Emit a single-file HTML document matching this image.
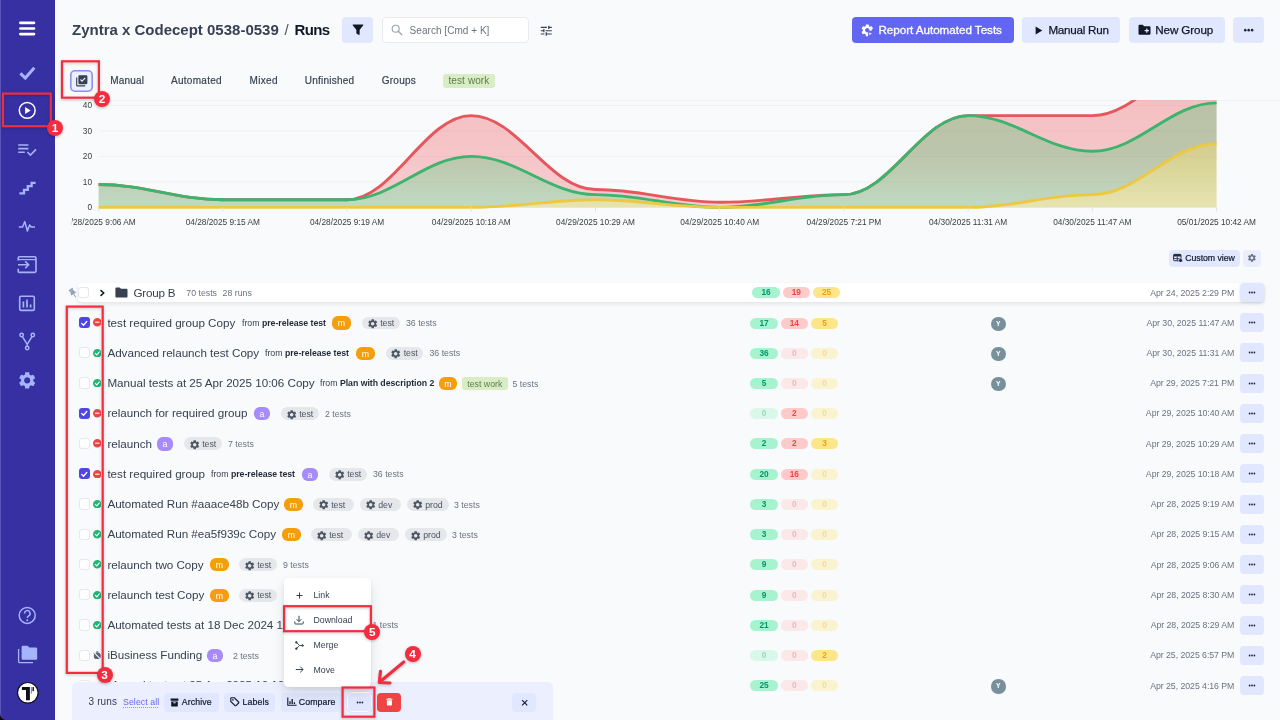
<!DOCTYPE html>
<html lang="en">
<head>
<meta charset="utf-8">
<title>Runs</title>
<style>
*{box-sizing:border-box;margin:0;padding:0}
html,body{width:1280px;height:720px;overflow:hidden;background:#f9fafb}
body{font-family:"Liberation Sans",sans-serif;color:#1f2937;position:relative}
.abs{position:absolute}
.side{position:absolute;left:0;top:0;width:55px;height:720px;background:#3730a3;border-left:1px solid #5b55b8;border-bottom-left-radius:7px}
.t{position:absolute;white-space:nowrap;height:20px;line-height:20px;font-size:11.67px;color:#1f2937}
.t.ti{color:#374151;letter-spacing:-.02px}
.t.sm{font-size:8.75px;color:#4b5563}
.t.fr{color:#374151}
.t.fr b{color:#1f2937;font-weight:700;letter-spacing:-.04px}
.t.dt{font-size:8.75px;color:#6b7280;letter-spacing:-.05px}
.pl{position:absolute;text-align:center;white-space:nowrap}
.env{position:absolute;height:12.9px;border-radius:6.5px;background:#e5e7eb}
.mb{position:absolute;width:18px;height:13.2px;border-radius:5.8px;color:#fff;font-size:8.75px;line-height:14.4px;text-align:center}
.lab{position:absolute;height:13.2px;line-height:14.2px;padding:0 5.3px;border-radius:3px;background:#d9edc4;color:#5f7a52;font-size:8.75px;white-space:nowrap}
.cb{position:absolute;width:11.2px;height:11.2px;border-radius:3px;background:#fff;box-shadow:inset 0 0 0 1px #e5e8ed}
.cb.on{background:#4f46e5;box-shadow:none}
.av{position:absolute;width:14.4px;height:14.4px;border-radius:50%;background:#78909c;color:#fff;font-size:6.8px;font-weight:700;line-height:14.6px;text-align:center}
.dots{position:absolute;width:24px;height:19px;border-radius:4px;background:#e0e7ff;display:flex;align-items:center;justify-content:center;gap:.55px}
.dots svg{display:block;fill:#1f2937}
.btn{position:absolute;border-radius:4px;background:#e0e7ff;color:#111827;white-space:nowrap}
.ax{font-family:"Liberation Sans",sans-serif;font-size:8.3px;fill:#373d3f}
.rbox{position:absolute;border:2px solid #f32d3f;filter:drop-shadow(0 1px 2px rgba(0,0,0,.25))}
.num{position:absolute;width:16.2px;height:16.2px;margin:-.4px 0 0 -.4px;border-radius:50%;background:#f32d3f;color:#fff;font-weight:700;font-size:11.8px;line-height:16.4px;text-align:center;box-shadow:0 1px 3px rgba(0,0,0,.28)}
.mi{position:absolute;left:313.5px;font-size:8.75px;color:#374151;height:20px;line-height:20px}
</style>
</head>
<body>
<div id="app" style="position:absolute;left:0;top:0;width:1280px;height:720px;overflow:hidden;will-change:transform">

<!-- ============ SIDEBAR ============ -->
<div class="abs" style="left:0;top:700px;width:12px;height:20px;background:#0b0b14"></div>
<div class="side"></div>
<svg class="abs" style="left:0;top:0" width="56" height="720" viewBox="0 0 56 720">
 <!-- hamburger -->
 <g stroke="#fff" stroke-width="2.7" stroke-linecap="round"><path d="M20.4 22.8H34M20.4 28.5H34M20.4 34.1H34"/></g>
 <!-- check -->
 <path d="M20.4 73.4 L25.3 78.1 L34.3 67.8" fill="none" stroke="#a5b4fc" stroke-width="3"/>
 <!-- play circle -->
 <circle cx="27.2" cy="110.4" r="7.9" fill="none" stroke="#fff" stroke-width="1.5"/>
 <path d="M25.1 106.9 L30.7 110.4 L25.1 113.9 Z" fill="#fff"/>
 <!-- playlist check -->
 <g stroke="#a5b4fc" stroke-width="1.6" fill="none"><path d="M18.2 145H28.4M18.2 148.6H28.4M18.2 152.2H24.8"/><path d="M27.4 152 L30.4 155 L36 149.4"/></g>
 <!-- stairs -->
 <path d="M19.4 193.4 H24 V189.8 H27.8 V186.2 H31.6 V182.9 H35.6" fill="none" stroke="#a5b4fc" stroke-width="2.3"/>
 <!-- pulse -->
 <path d="M18.8 227 H22.6 L24.8 221.6 L27.4 231 L29.6 225 L31.2 227 H35" fill="none" stroke="#a5b4fc" stroke-width="1.5" stroke-linejoin="round"/>
 <!-- import -->
 <g fill="none" stroke="#a5b4fc" stroke-width="1.6"><path d="M18.2 260.5 V258.2 a1.4 1.4 0 0 1 1.4-1.4 H34.6 a1.4 1.4 0 0 1 1.4 1.4 V271 a1.4 1.4 0 0 1-1.4 1.4 H19.6 a1.4 1.4 0 0 1-1.4-1.4 V268.8"/><path d="M18.2 259.6H36" stroke-width="1.2"/><path d="M18 264.8 H28.4 M25.2 261.4 L28.6 264.8 L25.2 268.2"/></g>
 <!-- chart box -->
 <g fill="none" stroke="#a5b4fc" stroke-width="1.6"><rect x="19.7" y="296.2" width="14.6" height="14.2" rx="1.4"/><path d="M23.4 307.4 V301.6 M27 307.4 V299.6 M30.6 307.4 V304.4" stroke-width="1.7"/></g>
 <!-- fork -->
 <g fill="none" stroke="#a5b4fc" stroke-width="1.5"><circle cx="21.6" cy="335" r="1.7"/><circle cx="32.8" cy="335" r="1.7"/><circle cx="27.2" cy="348" r="1.7"/><path d="M22.4 336.6 L27.2 344.4 L32 336.6 M27.2 344.4 V346.2"/></g>
 <!-- gear -->
 <g transform="translate(17,370.2) scale(.85)" fill="#a5b4fc"><path d="M19.14 12.94c.04-.3.06-.61.06-.94 0-.32-.02-.64-.07-.94l2.03-1.58a.49.49 0 0 0 .12-.61l-1.92-3.32a.488.488 0 0 0-.59-.22l-2.39.96c-.5-.38-1.03-.7-1.62-.94l-.36-2.54a.484.484 0 0 0-.48-.41h-3.84c-.24 0-.43.17-.47.41l-.36 2.54c-.59.24-1.13.57-1.62.94l-2.39-.96c-.22-.08-.47 0-.59.22L2.74 8.87c-.12.21-.08.47.12.61l2.03 1.58c-.05.3-.09.63-.09.94s.02.64.07.94l-2.03 1.58a.49.49 0 0 0-.12.61l1.92 3.32c.12.22.37.29.59.22l2.39-.96c.5.38 1.03.7 1.62.94l.36 2.54c.05.24.24.41.48.41h3.84c.24 0 .44-.17.47-.41l.36-2.54c.59-.24 1.13-.56 1.62-.94l2.39.96c.22.08.47 0 .59-.22l1.92-3.32c.12-.22.07-.47-.12-.61l-2.01-1.58zM12 15.6c-1.98 0-3.6-1.62-3.6-3.6s1.62-3.6 3.6-3.6 3.6 1.62 3.6 3.6-1.62 3.6-3.6 3.6z"/></g>
 <!-- help -->
 <circle cx="27.2" cy="615.4" r="8" fill="none" stroke="#a5b4fc" stroke-width="1.5"/>
 <path d="M24.5 613.4 a2.8 2.8 0 1 1 4.2 2.4 c-1 .6-1.4 1.1-1.4 2.2" fill="none" stroke="#a5b4fc" stroke-width="1.5"/>
 <circle cx="27.3" cy="620.2" r="1" fill="#a5b4fc"/>
 <!-- folders -->
 <path d="M18.6 649 V661.6 a1 1 0 0 0 1 1 H33" fill="none" stroke="#a5b4fc" stroke-width="1.3"/>
 <path d="M21.6 647 a1.3 1.3 0 0 1 1.3-1.3 h4.6 l1.8 1.9 h6.6 a1.3 1.3 0 0 1 1.3 1.3 v9.6 a1.3 1.3 0 0 1-1.3 1.3 h-13 a1.3 1.3 0 0 1-1.3-1.3 z" fill="#a5b4fc"/>
 <!-- avatar -->
 <circle cx="27.8" cy="692.8" r="10.3" fill="#fff" stroke="#15151f" stroke-width="1.2"/>
 <path d="M21.9 687 H29.9 V700.2 H26 V689.9 H21.9 Z" fill="#111"/>
 <rect x="30.8" y="687" width="1.1" height="6.6" fill="#5b8def"/>
 <rect x="32.5" y="687" width="1.4" height="4.2" fill="#111"/>
</svg>


<!-- ============ HEADER ============ -->
<div class="t" style="left:72px;top:20px;font-size:15px;font-weight:700;color:#374151">Zyntra x Codecept 0538-0539</div>
<div class="t" style="left:284.5px;top:20px;font-size:15px;color:#4b5563">/</div>
<div class="t" style="left:294.5px;top:20px;font-size:15px;font-weight:700;color:#111827;letter-spacing:-.6px">Runs</div>
<!-- filter btn -->
<div class="btn" style="left:342.3px;top:17.2px;width:30.6px;height:25.6px"></div>
<svg class="abs" style="left:351.6px;top:24.2px" width="12" height="12" viewBox="0 0 12 12"><path d="M.9 .9 H11.1 L7.2 5.9 V10.6 L4.8 9.4 V5.9 Z" fill="#111827" stroke="#111827" stroke-width=".8" stroke-linejoin="round"/></svg>
<!-- search -->
<div class="abs" style="left:381.5px;top:17.3px;width:147.2px;height:25.4px;background:#fff;border:1px solid #e8eaee;border-radius:4px"></div>
<svg class="abs" style="left:390.6px;top:24px" width="12" height="12" viewBox="0 0 12 12"><circle cx="4.7" cy="4.7" r="3.5" fill="none" stroke="#9ca3af" stroke-width="1.15"/><path d="M7.3 7.3 L10.8 10.8" stroke="#9ca3af" stroke-width="1.25" stroke-linecap="round"/></svg>
<div class="t" style="left:409.6px;top:20.7px;font-size:10px;color:#6b7280;letter-spacing:.04px">Search [Cmd + K]</div>
<!-- tune -->
<svg class="abs" style="left:538.9px;top:24.3px" width="14.6" height="13.4" viewBox="0 0 24 24" preserveAspectRatio="none" fill="#374151"><path d="M3 17v2h6v-2H3zM3 5v2h10V5H3zm10 16v-2h8v-2h-8v-2h-2v6h2zM7 9v2H3v2h4v2h2V9H7zm14 4v-2H11v2h10zm-6-4h2V7h4V5h-4V3h-2v6z"/></svg>

<!-- Report Automated Tests -->
<div class="btn" style="left:851.6px;top:16.9px;width:162px;height:26.3px;background:#6366f1"></div>
<svg class="abs" style="left:859.9px;top:22.9px" width="14.6" height="14.6" viewBox="0 0 24 24"><path d="M19.14 12.94c.04-.3.06-.61.06-.94 0-.32-.02-.64-.07-.94l2.03-1.58a.49.49 0 0 0 .12-.61l-1.92-3.32a.488.488 0 0 0-.59-.22l-2.39.96c-.5-.38-1.03-.7-1.62-.94l-.36-2.54a.484.484 0 0 0-.48-.41h-3.84c-.24 0-.43.17-.47.41l-.36 2.54c-.59.24-1.13.57-1.62.94l-2.39-.96c-.22-.08-.47 0-.59.22L2.74 8.87c-.12.21-.08.47.12.61l2.03 1.58c-.05.3-.09.63-.09.94s.02.64.07.94l-2.03 1.58a.49.49 0 0 0-.12.61l1.92 3.32c.12.22.37.29.59.22l2.39-.96c.5.38 1.03.7 1.62.94l.36 2.54c.05.24.24.41.48.41h3.84c.24 0 .44-.17.47-.41l.36-2.54c.59-.24 1.13-.56 1.62-.94l2.39.96c.22.08.47 0 .59-.22l1.92-3.32c.12-.22.07-.47-.12-.61l-2.01-1.58zM12 15.6c-1.98 0-3.6-1.62-3.6-3.6s1.62-3.6 3.6-3.6 3.6 1.62 3.6 3.6-1.62 3.6-3.6 3.6z" fill="#fff"/><path d="M13.4 12.7 H24 V24 H13.4 Z" fill="#6366f1"/><path d="M15.2 15.6 L19.6 17.7 L15.2 19.9 Z" fill="#fff"/></svg>
<div class="t" style="left:878.4px;top:19.9px;color:#fff;font-size:11.67px;letter-spacing:-.03px;-webkit-text-stroke:.3px #fff">Report Automated Tests</div>
<!-- Manual Run -->
<div class="btn" style="left:1021.9px;top:16.9px;width:98.6px;height:26.3px"></div>
<svg class="abs" style="left:1034.6px;top:25.7px" width="8" height="9" viewBox="0 0 8 9"><path d="M.6 .5 L7.3 4.5 L.6 8.5 Z" fill="#111827"/></svg>
<div class="t" style="left:1048.4px;top:19.8px;color:#111827;font-size:11.67px;letter-spacing:-.26px;-webkit-text-stroke:.25px #111827">Manual Run</div>
<!-- New Group -->
<div class="btn" style="left:1128.9px;top:16.9px;width:95.8px;height:26.3px"></div>
<svg class="abs" style="left:1138.3px;top:24.4px" width="13" height="12" viewBox="0 0 13 12"><path d="M.5 1.8 a1 1 0 0 1 1-1 h3.3 l1.3 1.4 h5.4 a1 1 0 0 1 1 1 v6.6 a1 1 0 0 1-1 1 h-10 a1 1 0 0 1-1-1 z" fill="#111827"/><path d="M8.8 4.4 V8.8 M6.6 6.6 H11" stroke="#e0e7ff" stroke-width="1.25"/></svg>
<div class="t" style="left:1155.2px;top:19.8px;color:#111827;font-size:11.67px;letter-spacing:-.1px;-webkit-text-stroke:.25px #111827">New Group</div>
<!-- more -->
<div class="btn" style="left:1233px;top:16.9px;width:31.2px;height:26.3px"></div>
<div class="dots" style="left:1237px;top:20.8px;background:none"><svg width="11.4" height="4.3" viewBox="0 0 8 3"><circle cx="1.6" cy="1.5" r=".9"/><circle cx="4" cy="1.5" r=".9"/><circle cx="6.4" cy="1.5" r=".9"/></svg></div>


<!-- ============ TABS ============ -->
<div class="abs" style="left:70.2px;top:69.9px;width:22.4px;height:22.6px;border-radius:5px;background:#eceffe;box-shadow:inset 0 0 0 1.6px #8890fa"></div>
<svg class="abs" style="left:74.7px;top:74.3px" width="13.5" height="13.5" viewBox="0 0 24 24" fill="#374151"><path d="M20 2H8c-1.1 0-2 .9-2 2v12c0 1.1.9 2 2 2h12c1.1 0 2-.9 2-2V4c0-1.1-.9-2-2-2zm-7.53 12L9 10.5l1.4-1.41 2.07 2.08L17.6 6 19 7.41 12.47 14zM4 6H2v14c0 1.1.9 2 2 2h14v-2H4V6z"/></svg>
<div class="t" style="left:110.2px;top:71.3px;font-size:10px;color:#374151;-webkit-text-stroke:.18px #374151;letter-spacing:.22px">Manual</div>
<div class="t" style="left:171px;top:71.3px;font-size:10px;color:#374151;-webkit-text-stroke:.18px #374151;letter-spacing:.28px">Automated</div>
<div class="t" style="left:249.6px;top:71.3px;font-size:10px;color:#374151;-webkit-text-stroke:.18px #374151;letter-spacing:.3px">Mixed</div>
<div class="t" style="left:304.8px;top:71.3px;font-size:10px;color:#374151;-webkit-text-stroke:.18px #374151;letter-spacing:.22px">Unfinished</div>
<div class="t" style="left:381.8px;top:71.3px;font-size:10px;color:#374151;-webkit-text-stroke:.18px #374151;letter-spacing:.22px">Groups</div>
<div class="lab" style="left:442.9px;top:73.6px;height:14.2px;line-height:14.2px;font-size:10px;padding:0 5.6px;letter-spacing:.1px">test work</div>


<!-- ============ CHART ============ -->
<div class="abs" style="left:55px;top:100px;width:1225px;height:1px;background:#eef0f3"></div>
<svg class="chart" width="1225" height="140" viewBox="55 100 1225 140" style="position:absolute;left:55px;top:100px;overflow:hidden">
<defs><linearGradient id="gr" gradientUnits="userSpaceOnUse" x1="0" y1="100" x2="0" y2="207.4"><stop offset="0" stop-color="#ed535a" stop-opacity=".35"/><stop offset="1" stop-color="#ed535a" stop-opacity=".27"/></linearGradient><linearGradient id="gg" gradientUnits="userSpaceOnUse" x1="0" y1="103" x2="0" y2="207.4"><stop offset="0" stop-color="#7b8851" stop-opacity=".5"/><stop offset=".5" stop-color="#81925d" stop-opacity=".5"/><stop offset="1" stop-color="#89b88b" stop-opacity=".5"/></linearGradient><linearGradient id="gy" gradientUnits="userSpaceOnUse" x1="0" y1="143" x2="0" y2="207.4"><stop offset="0" stop-color="#b8af42" stop-opacity=".6"/><stop offset="1" stop-color="#d9d581" stop-opacity=".6"/></linearGradient></defs>
<line x1="98.6" x2="1216.6" y1="207.4" y2="207.4" stroke="#eef0f3" stroke-width="1"/>
<text x="92" y="210.1" text-anchor="end" class="ax">0</text>
<line x1="98.6" x2="1216.6" y1="181.9" y2="181.9" stroke="#eef0f3" stroke-width="1"/>
<text x="92" y="184.6" text-anchor="end" class="ax">10</text>
<line x1="98.6" x2="1216.6" y1="156.4" y2="156.4" stroke="#eef0f3" stroke-width="1"/>
<text x="92" y="159.1" text-anchor="end" class="ax">20</text>
<line x1="98.6" x2="1216.6" y1="130.9" y2="130.9" stroke="#eef0f3" stroke-width="1"/>
<text x="92" y="133.6" text-anchor="end" class="ax">30</text>
<line x1="98.6" x2="1216.6" y1="105.4" y2="105.4" stroke="#eef0f3" stroke-width="1"/>
<text x="92" y="108.1" text-anchor="end" class="ax">40</text>
<path d="M98.6,184.45 C144.61,184.45 176.81,199.75 222.82,199.75 C268.83,199.75 301.03,199.75 347.04,199.75 C393.05,199.75 425.25,115.6 471.26,115.6 C517.27,115.6 549.47,189.55 595.48,189.55 C641.49,189.55 673.69,202.3 719.7,202.3 C765.71,202.3 797.91,194.65 843.92,194.65 C889.93,194.65 922.13,115.6 968.14,115.6 C1014.15,115.6 1046.35,115.6 1092.36,115.6 C1138.37,115.6 1170.57,54.4 1216.58,54.4 L1216.58,102.85 C1170.57,102.85 1138.37,151.3 1092.36,151.3 C1046.35,151.3 1014.15,115.6 968.14,115.6 C922.13,115.6 889.93,194.65 843.92,194.65 C797.91,194.65 765.71,207.4 719.7,207.4 C673.69,207.4 641.49,194.65 595.48,194.65 C549.47,194.65 517.27,156.4 471.26,156.4 C425.25,156.4 393.05,199.75 347.04,199.75 C301.03,199.75 268.83,199.75 222.82,199.75 C176.81,199.75 144.61,184.45 98.6,184.45 Z" fill="url(#gr)"/>
<path d="M98.6,184.45 C144.61,184.45 176.81,199.75 222.82,199.75 C268.83,199.75 301.03,199.75 347.04,199.75 C393.05,199.75 425.25,156.4 471.26,156.4 C517.27,156.4 549.47,194.65 595.48,194.65 C641.49,194.65 673.69,207.4 719.7,207.4 C765.71,207.4 797.91,194.65 843.92,194.65 C889.93,194.65 922.13,115.6 968.14,115.6 C1014.15,115.6 1046.35,151.3 1092.36,151.3 C1138.37,151.3 1170.57,102.85 1216.58,102.85 L1216.58,143.65 C1170.57,143.65 1138.37,194.65 1092.36,194.65 C1046.35,194.65 1014.15,207.4 968.14,207.4 C922.13,207.4 889.93,207.4 843.92,207.4 C797.91,207.4 765.71,207.4 719.7,207.4 C673.69,207.4 641.49,199.75 595.48,199.75 C549.47,199.75 517.27,207.4 471.26,207.4 C425.25,207.4 393.05,207.4 347.04,207.4 C301.03,207.4 268.83,207.4 222.82,207.4 C176.81,207.4 144.61,207.4 98.6,207.4 Z" fill="url(#gg)"/>
<path d="M98.6,207.4 C144.61,207.4 176.81,207.4 222.82,207.4 C268.83,207.4 301.03,207.4 347.04,207.4 C393.05,207.4 425.25,207.4 471.26,207.4 C517.27,207.4 549.47,199.75 595.48,199.75 C641.49,199.75 673.69,207.4 719.7,207.4 C765.71,207.4 797.91,207.4 843.92,207.4 C889.93,207.4 922.13,207.4 968.14,207.4 C1014.15,207.4 1046.35,194.65 1092.36,194.65 C1138.37,194.65 1170.57,143.65 1216.58,143.65 L1216.58,207.4 L98.6,207.4 Z" fill="url(#gy)"/>
<path d="M98.6,184.45 C144.61,184.45 176.81,199.75 222.82,199.75 C268.83,199.75 301.03,199.75 347.04,199.75 C393.05,199.75 425.25,115.6 471.26,115.6 C517.27,115.6 549.47,189.55 595.48,189.55 C641.49,189.55 673.69,202.3 719.7,202.3 C765.71,202.3 797.91,194.65 843.92,194.65 C889.93,194.65 922.13,115.6 968.14,115.6 C1014.15,115.6 1046.35,115.6 1092.36,115.6 C1138.37,115.6 1170.57,54.4 1216.58,54.4" fill="none" stroke="#e5575c" stroke-width="2.9"/>
<path d="M98.6,184.45 C144.61,184.45 176.81,199.75 222.82,199.75 C268.83,199.75 301.03,199.75 347.04,199.75 C393.05,199.75 425.25,156.4 471.26,156.4 C517.27,156.4 549.47,194.65 595.48,194.65 C641.49,194.65 673.69,207.4 719.7,207.4 C765.71,207.4 797.91,194.65 843.92,194.65 C889.93,194.65 922.13,115.6 968.14,115.6 C1014.15,115.6 1046.35,151.3 1092.36,151.3 C1138.37,151.3 1170.57,102.85 1216.58,102.85" fill="none" stroke="#3cb46e" stroke-width="2.9"/>
<path d="M98.6,207.4 C144.61,207.4 176.81,207.4 222.82,207.4 C268.83,207.4 301.03,207.4 347.04,207.4 C393.05,207.4 425.25,207.4 471.26,207.4 C517.27,207.4 549.47,199.75 595.48,199.75 C641.49,199.75 673.69,207.4 719.7,207.4 C765.71,207.4 797.91,207.4 843.92,207.4 C889.93,207.4 922.13,207.4 968.14,207.4 C1014.15,207.4 1046.35,194.65 1092.36,194.65 C1138.37,194.65 1170.57,143.65 1216.58,143.65" fill="none" stroke="#edc843" stroke-width="2.9"/>
<line x1="98.6" x2="98.6" y1="207.4" y2="211.4" stroke="#e0e0e0" stroke-width="1"/>
<text x="98.6" y="225" text-anchor="middle" class="ax">04/28/2025 9:06 AM</text>
<line x1="222.82" x2="222.82" y1="207.4" y2="211.4" stroke="#e0e0e0" stroke-width="1"/>
<text x="222.82" y="225" text-anchor="middle" class="ax">04/28/2025 9:15 AM</text>
<line x1="347.04" x2="347.04" y1="207.4" y2="211.4" stroke="#e0e0e0" stroke-width="1"/>
<text x="347.04" y="225" text-anchor="middle" class="ax">04/28/2025 9:19 AM</text>
<line x1="471.26" x2="471.26" y1="207.4" y2="211.4" stroke="#e0e0e0" stroke-width="1"/>
<text x="471.26" y="225" text-anchor="middle" class="ax">04/29/2025 10:18 AM</text>
<line x1="595.48" x2="595.48" y1="207.4" y2="211.4" stroke="#e0e0e0" stroke-width="1"/>
<text x="595.48" y="225" text-anchor="middle" class="ax">04/29/2025 10:29 AM</text>
<line x1="719.7" x2="719.7" y1="207.4" y2="211.4" stroke="#e0e0e0" stroke-width="1"/>
<text x="719.7" y="225" text-anchor="middle" class="ax">04/29/2025 10:40 AM</text>
<line x1="843.92" x2="843.92" y1="207.4" y2="211.4" stroke="#e0e0e0" stroke-width="1"/>
<text x="843.92" y="225" text-anchor="middle" class="ax">04/29/2025 7:21 PM</text>
<line x1="968.14" x2="968.14" y1="207.4" y2="211.4" stroke="#e0e0e0" stroke-width="1"/>
<text x="968.14" y="225" text-anchor="middle" class="ax">04/30/2025 11:31 AM</text>
<line x1="1092.36" x2="1092.36" y1="207.4" y2="211.4" stroke="#e0e0e0" stroke-width="1"/>
<text x="1092.36" y="225" text-anchor="middle" class="ax">04/30/2025 11:47 AM</text>
<line x1="1216.58" x2="1216.58" y1="207.4" y2="211.4" stroke="#e0e0e0" stroke-width="1"/>
<text x="1216.58" y="225" text-anchor="middle" class="ax">05/01/2025 10:42 AM</text>
<rect x="55" y="215" width="16.8" height="16" fill="#f9fafb"/>
</svg>

<!-- ============ LIST ============ -->
<!-- custom view -->
<div class="btn" style="left:1169.3px;top:249.5px;width:70.6px;height:17.3px"></div>
<svg class="abs" style="left:1173px;top:252.9px" width="9.6" height="9.6" viewBox="0 0 12 12"><rect x=".7" y="1.7" width="9.3" height="8" rx="1.2" fill="none" stroke="#1f2937" stroke-width="1.2"/><rect x=".7" y="1.7" width="9.3" height="2.6" rx=".8" fill="#1f2937"/><path d="M.7 7 H10 M5.35 4.3 V9.7" stroke="#1f2937" stroke-width="1.05"/><circle cx="9.4" cy="9.3" r="2.5" fill="#1f2937" stroke="#e0e7ff" stroke-width=".8"/></svg>
<div class="t" style="left:1185.2px;top:248.3px;font-size:8.75px;color:#111827;letter-spacing:-.04px;-webkit-text-stroke:.2px #111827">Custom view</div>
<div class="btn" style="left:1243px;top:249.5px;width:18px;height:17.3px;background:#e9edfd"></div>
<svg class="abs" style="left:1247px;top:253.1px" width="9.8" height="9.8" viewBox="0 0 24 24" fill="#6b7280"><path d="M19.14 12.94c.04-.3.06-.61.06-.94 0-.32-.02-.64-.07-.94l2.03-1.58a.49.49 0 0 0 .12-.61l-1.92-3.32a.488.488 0 0 0-.59-.22l-2.39.96c-.5-.38-1.03-.7-1.62-.94l-.36-2.54a.484.484 0 0 0-.48-.41h-3.84c-.24 0-.43.17-.47.41l-.36 2.54c-.59.24-1.13.57-1.62.94l-2.39-.96c-.22-.08-.47 0-.59.22L2.74 8.87c-.12.21-.08.47.12.61l2.03 1.58c-.05.3-.09.63-.09.94s.02.64.07.94l-2.03 1.58a.49.49 0 0 0-.12.61l1.92 3.32c.12.22.37.29.59.22l2.39-.96c.5.38 1.03.7 1.62.94l.36 2.54c.05.24.24.41.48.41h3.84c.24 0 .44-.17.47-.41l.36-2.54c.59-.24 1.13-.56 1.62-.94l2.39.96c.22.08.47 0 .59-.22l1.92-3.32c.12-.22.07-.47-.12-.61l-2.01-1.58zM12 15.6c-1.98 0-3.6-1.62-3.6-3.6s1.62-3.6 3.6-3.6 3.6 1.62 3.6 3.6-1.62 3.6-3.6 3.6z"/></svg>

<!-- Group B row -->
<div class="abs" style="left:78px;top:283.3px;width:1186px;height:18.8px;background:#fff;border-radius:4px;box-shadow:0 2px 4px rgba(0,0,0,.09),0 0 1px rgba(0,0,0,.04)"></div>
<svg class="abs" style="left:66.9px;top:285.8px" width="12" height="14" viewBox="66 285 12 14"><g transform="rotate(-32 72 292)" fill="#94a0b8"><rect x="69.7" y="287.2" width="4.6" height="1.8" rx=".5"/><path d="M70.5 289 H73.5 L74.9 293.2 H69.1 Z"/><path d="M72 293 V297" stroke="#94a0b8" stroke-width=".9"/></g></svg>
<div class="cb" style="left:78.1px;top:287px"></div>
<svg class="abs" style="left:97.8px;top:288px" width="8" height="10" viewBox="0 0 8 10"><path d="M2.5 2.1 L5.7 5 L2.5 7.9" fill="none" stroke="#111827" stroke-width="1.5"/></svg>
<svg class="abs" style="left:114.8px;top:286.8px" width="13" height="11" viewBox="0 0 13 11"><path d="M.4 1.4 a.9 .9 0 0 1 .9-.9 h3.4 l1.3 1.3 h5.6 a.9 .9 0 0 1 .9 .9 v6.9 a.9 .9 0 0 1-.9 .9 h-10.3 a.9 .9 0 0 1-.9-.9 z" fill="#374151"/></svg>
<div class="t ti" style="left:133.4px;top:282.5px;color:#374151;letter-spacing:-.2px">Group B</div>
<div class="t sm" style="left:186.3px;top:282.5px;color:#6b7280">70 tests</div>
<div class="t sm" style="left:222.6px;top:282.5px;color:#6b7280">28 runs</div>
<div class="pl" style="left:752.3px;top:287.3px;width:27.5px;height:11px;line-height:11px;background:#a7f3d0;color:#059669;opacity:1;font-size:8.3px;border-radius:5.5px;font-weight:700;">16</div><div class="pl" style="left:782.5px;top:287.3px;width:27.5px;height:11px;line-height:11px;background:#fecaca;color:#ef4444;opacity:1;font-size:8.3px;border-radius:5.5px;font-weight:700;">19</div><div class="pl" style="left:812.8px;top:287.3px;width:27.5px;height:11px;line-height:11px;background:#fde68a;color:#f59e0b;opacity:1;font-size:8.3px;border-radius:5.5px;font-weight:700;">25</div><div class="t dt" style="right:45.700000000000045px;top:282.5px">Apr 24, 2025 2:29 PM</div><div class="dots" style="left:1240px;top:283px;box-shadow:0 1px 3px rgba(0,0,0,.12);"><svg width="8" height="3" viewBox="0 0 8 3"><circle cx="1.6" cy="1.5" r=".88"/><circle cx="4" cy="1.5" r=".88"/><circle cx="6.4" cy="1.5" r=".88"/></svg></div>

<div class="cb on" style="left:78.60000000000001px;top:317px"></div><svg style="position:absolute;left:80.10000000000001px;top:318.6px" width="8.4" height="8.4" viewBox="0 0 12 12" fill="currentColor" ><path d="M2.4 6.3 L5 8.9 L9.7 3.5" fill="none" stroke="#fff" stroke-width="1.9" stroke-linecap="round" stroke-linejoin="round"/></svg>
<svg style="position:absolute;left:92.7px;top:318.4px" width="8.6" height="8.6" viewBox="0 0 12 12" fill="currentColor" ><circle cx="6" cy="6" r="6" fill="#ef4444"/><rect x="2.8" y="4.9" width="6.4" height="2.2" rx=".6" fill="#fecaca"/></svg>
<div class="t ti" style="left:107.4px;top:312.7px;">test required group Copy</div>
<div class="t sm fr" style="left:242px;top:313px;">from <b>pre-release test</b></div>
<div class="mb" style="left:332px;top:316.4px;width:18.6px;background:#f59e0b">m</div>
<div class="env" style="left:362px;top:316.5px;width:37.5px"></div><svg style="position:absolute;left:366.8px;top:318px" width="11.4" height="11.4" viewBox="0 0 24 24" fill="#4b5563" ><path d="M19.14 12.94c.04-.3.06-.61.06-.94 0-.32-.02-.64-.07-.94l2.03-1.58a.49.49 0 0 0 .12-.61l-1.92-3.32a.488.488 0 0 0-.59-.22l-2.39.96c-.5-.38-1.03-.7-1.62-.94l-.36-2.54a.484.484 0 0 0-.48-.41h-3.84c-.24 0-.43.17-.47.41l-.36 2.54c-.59.24-1.13.57-1.62.94l-2.39-.96c-.22-.08-.47 0-.59.22L2.74 8.87c-.12.21-.08.47.12.61l2.03 1.58c-.05.3-.09.63-.09.94s.02.64.07.94l-2.03 1.58a.49.49 0 0 0-.12.61l1.92 3.32c.12.22.37.29.59.22l2.39-.96c.5.38 1.03.7 1.62.94l.36 2.54c.05.24.24.41.48.41h3.84c.24 0 .44-.17.47-.41l.36-2.54c.59-.24 1.13-.56 1.62-.94l2.39.96c.22.08.47 0 .59-.22l1.92-3.32c.12-.22.07-.47-.12-.61l-2.01-1.58zM12 15.6c-1.98 0-3.6-1.62-3.6-3.6s1.62-3.6 3.6-3.6 3.6 1.62 3.6 3.6-1.62 3.6-3.6 3.6z"/></svg><div class="t sm" style="left:380.2px;top:313.2px;color:#4b5563">test</div>
<div class="t sm" style="left:406px;top:313.1px;color:#6b7280">36 tests</div>
<div class="pl" style="left:750.3px;top:317.5px;width:27.5px;height:11px;line-height:11px;background:#a7f3d0;color:#059669;opacity:1;font-size:8.3px;border-radius:5.5px;font-weight:700;">17</div><div class="pl" style="left:780.5px;top:317.5px;width:27.5px;height:11px;line-height:11px;background:#fecaca;color:#ef4444;opacity:1;font-size:8.3px;border-radius:5.5px;font-weight:700;">14</div><div class="pl" style="left:810.8px;top:317.5px;width:27.5px;height:11px;line-height:11px;background:#fde68a;color:#f59e0b;opacity:1;font-size:8.3px;border-radius:5.5px;font-weight:700;">5</div>
<div class="av" style="left:991.2px;top:316.5px">Y</div>
<div class="t dt" style="right:45.700000000000045px;top:312.7px">Apr 30, 2025 11:47 AM</div>
<div class="dots" style="left:1240px;top:313.2px;"><svg width="8" height="3" viewBox="0 0 8 3"><circle cx="1.6" cy="1.5" r=".88"/><circle cx="4" cy="1.5" r=".88"/><circle cx="6.4" cy="1.5" r=".88"/></svg></div>
<div class="cb" style="left:78.60000000000001px;top:347.24px"></div>
<svg style="position:absolute;left:92.7px;top:348.63px" width="8.6" height="8.6" viewBox="0 0 12 12" fill="currentColor" ><circle cx="6" cy="6" r="6" fill="#22b573"/><path d="M3.2 6.2 L5.2 8.2 L8.9 4.1" fill="none" stroke="#fff" stroke-width="1.5" stroke-linecap="round" stroke-linejoin="round"/></svg>
<div class="t ti" style="left:107.4px;top:342.94px;">Advanced relaunch test Copy</div>
<div class="t sm fr" style="left:265px;top:343.24px;">from <b>pre-release test</b></div>
<div class="mb" style="left:356px;top:346.63px;width:18.6px;background:#f59e0b">m</div>
<div class="env" style="left:385.5px;top:346.74px;width:37.5px"></div><svg style="position:absolute;left:390.3px;top:348.24px" width="11.4" height="11.4" viewBox="0 0 24 24" fill="#4b5563" ><path d="M19.14 12.94c.04-.3.06-.61.06-.94 0-.32-.02-.64-.07-.94l2.03-1.58a.49.49 0 0 0 .12-.61l-1.92-3.32a.488.488 0 0 0-.59-.22l-2.39.96c-.5-.38-1.03-.7-1.62-.94l-.36-2.54a.484.484 0 0 0-.48-.41h-3.84c-.24 0-.43.17-.47.41l-.36 2.54c-.59.24-1.13.57-1.62.94l-2.39-.96c-.22-.08-.47 0-.59.22L2.74 8.87c-.12.21-.08.47.12.61l2.03 1.58c-.05.3-.09.63-.09.94s.02.64.07.94l-2.03 1.58a.49.49 0 0 0-.12.61l1.92 3.32c.12.22.37.29.59.22l2.39-.96c.5.38 1.03.7 1.62.94l.36 2.54c.05.24.24.41.48.41h3.84c.24 0 .44-.17.47-.41l.36-2.54c.59-.24 1.13-.56 1.62-.94l2.39.96c.22.08.47 0 .59-.22l1.92-3.32c.12-.22.07-.47-.12-.61l-2.01-1.58zM12 15.6c-1.98 0-3.6-1.62-3.6-3.6s1.62-3.6 3.6-3.6 3.6 1.62 3.6 3.6-1.62 3.6-3.6 3.6z"/></svg><div class="t sm" style="left:403.7px;top:343.44px;color:#4b5563">test</div>
<div class="t sm" style="left:429.5px;top:343.33px;color:#6b7280">36 tests</div>
<div class="pl" style="left:750.3px;top:347.74px;width:27.5px;height:11px;line-height:11px;background:#a7f3d0;color:#059669;opacity:1;font-size:8.3px;border-radius:5.5px;font-weight:700;">36</div><div class="pl" style="left:780.5px;top:347.74px;width:27.5px;height:11px;line-height:11px;background:#fecaca;color:#ef4444;opacity:0.38;font-size:8.3px;border-radius:5.5px;font-weight:700;">0</div><div class="pl" style="left:810.8px;top:347.74px;width:27.5px;height:11px;line-height:11px;background:#fde68a;color:#f59e0b;opacity:0.38;font-size:8.3px;border-radius:5.5px;font-weight:700;">0</div>
<div class="av" style="left:991.2px;top:346.74px">Y</div>
<div class="t dt" style="right:45.700000000000045px;top:342.94px">Apr 30, 2025 11:31 AM</div>
<div class="dots" style="left:1240px;top:343.44px;"><svg width="8" height="3" viewBox="0 0 8 3"><circle cx="1.6" cy="1.5" r=".88"/><circle cx="4" cy="1.5" r=".88"/><circle cx="6.4" cy="1.5" r=".88"/></svg></div>
<div class="cb" style="left:78.60000000000001px;top:377.47px"></div>
<svg style="position:absolute;left:92.7px;top:378.87px" width="8.6" height="8.6" viewBox="0 0 12 12" fill="currentColor" ><circle cx="6" cy="6" r="6" fill="#22b573"/><path d="M3.2 6.2 L5.2 8.2 L8.9 4.1" fill="none" stroke="#fff" stroke-width="1.5" stroke-linecap="round" stroke-linejoin="round"/></svg>
<div class="t ti" style="left:107.4px;top:373.17px;">Manual tests at 25 Apr 2025 10:06 Copy</div>
<div class="t sm fr" style="left:320px;top:373.47px;">from <b>Plan with description 2</b></div>
<div class="mb" style="left:438.5px;top:376.87px;width:18.6px;background:#f59e0b">m</div>
<div class="lab" style="left:462px;top:377.17px">test work</div>
<div class="t sm" style="left:512.5px;top:373.57px;color:#6b7280">5 tests</div>
<div class="pl" style="left:750.3px;top:377.97px;width:27.5px;height:11px;line-height:11px;background:#a7f3d0;color:#059669;opacity:1;font-size:8.3px;border-radius:5.5px;font-weight:700;">5</div><div class="pl" style="left:780.5px;top:377.97px;width:27.5px;height:11px;line-height:11px;background:#fecaca;color:#ef4444;opacity:0.38;font-size:8.3px;border-radius:5.5px;font-weight:700;">0</div><div class="pl" style="left:810.8px;top:377.97px;width:27.5px;height:11px;line-height:11px;background:#fde68a;color:#f59e0b;opacity:0.38;font-size:8.3px;border-radius:5.5px;font-weight:700;">0</div>
<div class="av" style="left:991.2px;top:376.97px">Y</div>
<div class="t dt" style="right:45.700000000000045px;top:373.17px">Apr 29, 2025 7:21 PM</div>
<div class="dots" style="left:1240px;top:373.67px;"><svg width="8" height="3" viewBox="0 0 8 3"><circle cx="1.6" cy="1.5" r=".88"/><circle cx="4" cy="1.5" r=".88"/><circle cx="6.4" cy="1.5" r=".88"/></svg></div>
<div class="cb on" style="left:78.60000000000001px;top:407.7px"></div><svg style="position:absolute;left:80.10000000000001px;top:409.3px" width="8.4" height="8.4" viewBox="0 0 12 12" fill="currentColor" ><path d="M2.4 6.3 L5 8.9 L9.7 3.5" fill="none" stroke="#fff" stroke-width="1.9" stroke-linecap="round" stroke-linejoin="round"/></svg>
<svg style="position:absolute;left:92.7px;top:409.1px" width="8.6" height="8.6" viewBox="0 0 12 12" fill="currentColor" ><circle cx="6" cy="6" r="6" fill="#ef4444"/><rect x="2.8" y="4.9" width="6.4" height="2.2" rx=".6" fill="#fecaca"/></svg>
<div class="t ti" style="left:107.4px;top:403.4px;">relaunch for required group</div>
<div class="mb" style="left:254px;top:407.1px;width:16px;background:#a78bfa">a</div>
<div class="env" style="left:281px;top:407.2px;width:37.5px"></div><svg style="position:absolute;left:285.8px;top:408.7px" width="11.4" height="11.4" viewBox="0 0 24 24" fill="#4b5563" ><path d="M19.14 12.94c.04-.3.06-.61.06-.94 0-.32-.02-.64-.07-.94l2.03-1.58a.49.49 0 0 0 .12-.61l-1.92-3.32a.488.488 0 0 0-.59-.22l-2.39.96c-.5-.38-1.03-.7-1.62-.94l-.36-2.54a.484.484 0 0 0-.48-.41h-3.84c-.24 0-.43.17-.47.41l-.36 2.54c-.59.24-1.13.57-1.62.94l-2.39-.96c-.22-.08-.47 0-.59.22L2.74 8.87c-.12.21-.08.47.12.61l2.03 1.58c-.05.3-.09.63-.09.94s.02.64.07.94l-2.03 1.58a.49.49 0 0 0-.12.61l1.92 3.32c.12.22.37.29.59.22l2.39-.96c.5.38 1.03.7 1.62.94l.36 2.54c.05.24.24.41.48.41h3.84c.24 0 .44-.17.47-.41l.36-2.54c.59-.24 1.13-.56 1.62-.94l2.39.96c.22.08.47 0 .59-.22l1.92-3.32c.12-.22.07-.47-.12-.61l-2.01-1.58zM12 15.6c-1.98 0-3.6-1.62-3.6-3.6s1.62-3.6 3.6-3.6 3.6 1.62 3.6 3.6-1.62 3.6-3.6 3.6z"/></svg><div class="t sm" style="left:299.2px;top:403.9px;color:#4b5563">test</div>
<div class="t sm" style="left:325px;top:403.8px;color:#6b7280">2 tests</div>
<div class="pl" style="left:750.3px;top:408.2px;width:27.5px;height:11px;line-height:11px;background:#a7f3d0;color:#059669;opacity:0.38;font-size:8.3px;border-radius:5.5px;font-weight:700;">0</div><div class="pl" style="left:780.5px;top:408.2px;width:27.5px;height:11px;line-height:11px;background:#fecaca;color:#ef4444;opacity:1;font-size:8.3px;border-radius:5.5px;font-weight:700;">2</div><div class="pl" style="left:810.8px;top:408.2px;width:27.5px;height:11px;line-height:11px;background:#fde68a;color:#f59e0b;opacity:0.38;font-size:8.3px;border-radius:5.5px;font-weight:700;">0</div>
<div class="t dt" style="right:45.700000000000045px;top:403.4px">Apr 29, 2025 10:40 AM</div>
<div class="dots" style="left:1240px;top:403.9px;"><svg width="8" height="3" viewBox="0 0 8 3"><circle cx="1.6" cy="1.5" r=".88"/><circle cx="4" cy="1.5" r=".88"/><circle cx="6.4" cy="1.5" r=".88"/></svg></div>
<div class="cb" style="left:78.60000000000001px;top:437.94px"></div>
<svg style="position:absolute;left:92.7px;top:439.34px" width="8.6" height="8.6" viewBox="0 0 12 12" fill="currentColor" ><circle cx="6" cy="6" r="6" fill="#ef4444"/><rect x="2.8" y="4.9" width="6.4" height="2.2" rx=".6" fill="#fecaca"/></svg>
<div class="t ti" style="left:107.4px;top:433.64px;">relaunch</div>
<div class="mb" style="left:157px;top:437.34px;width:16px;background:#a78bfa">a</div>
<div class="env" style="left:184px;top:437.44px;width:37.5px"></div><svg style="position:absolute;left:188.8px;top:438.94px" width="11.4" height="11.4" viewBox="0 0 24 24" fill="#4b5563" ><path d="M19.14 12.94c.04-.3.06-.61.06-.94 0-.32-.02-.64-.07-.94l2.03-1.58a.49.49 0 0 0 .12-.61l-1.92-3.32a.488.488 0 0 0-.59-.22l-2.39.96c-.5-.38-1.03-.7-1.62-.94l-.36-2.54a.484.484 0 0 0-.48-.41h-3.84c-.24 0-.43.17-.47.41l-.36 2.54c-.59.24-1.13.57-1.62.94l-2.39-.96c-.22-.08-.47 0-.59.22L2.74 8.87c-.12.21-.08.47.12.61l2.03 1.58c-.05.3-.09.63-.09.94s.02.64.07.94l-2.03 1.58a.49.49 0 0 0-.12.61l1.92 3.32c.12.22.37.29.59.22l2.39-.96c.5.38 1.03.7 1.62.94l.36 2.54c.05.24.24.41.48.41h3.84c.24 0 .44-.17.47-.41l.36-2.54c.59-.24 1.13-.56 1.62-.94l2.39.96c.22.08.47 0 .59-.22l1.92-3.32c.12-.22.07-.47-.12-.61l-2.01-1.58zM12 15.6c-1.98 0-3.6-1.62-3.6-3.6s1.62-3.6 3.6-3.6 3.6 1.62 3.6 3.6-1.62 3.6-3.6 3.6z"/></svg><div class="t sm" style="left:202.2px;top:434.14px;color:#4b5563">test</div>
<div class="t sm" style="left:228px;top:434.04px;color:#6b7280">7 tests</div>
<div class="pl" style="left:750.3px;top:438.44px;width:27.5px;height:11px;line-height:11px;background:#a7f3d0;color:#059669;opacity:1;font-size:8.3px;border-radius:5.5px;font-weight:700;">2</div><div class="pl" style="left:780.5px;top:438.44px;width:27.5px;height:11px;line-height:11px;background:#fecaca;color:#ef4444;opacity:1;font-size:8.3px;border-radius:5.5px;font-weight:700;">2</div><div class="pl" style="left:810.8px;top:438.44px;width:27.5px;height:11px;line-height:11px;background:#fde68a;color:#f59e0b;opacity:1;font-size:8.3px;border-radius:5.5px;font-weight:700;">3</div>
<div class="t dt" style="right:45.700000000000045px;top:433.64px">Apr 29, 2025 10:29 AM</div>
<div class="dots" style="left:1240px;top:434.14px;"><svg width="8" height="3" viewBox="0 0 8 3"><circle cx="1.6" cy="1.5" r=".88"/><circle cx="4" cy="1.5" r=".88"/><circle cx="6.4" cy="1.5" r=".88"/></svg></div>
<div class="cb on" style="left:78.60000000000001px;top:468.18px"></div><svg style="position:absolute;left:80.10000000000001px;top:469.77px" width="8.4" height="8.4" viewBox="0 0 12 12" fill="currentColor" ><path d="M2.4 6.3 L5 8.9 L9.7 3.5" fill="none" stroke="#fff" stroke-width="1.9" stroke-linecap="round" stroke-linejoin="round"/></svg>
<svg style="position:absolute;left:92.7px;top:469.57px" width="8.6" height="8.6" viewBox="0 0 12 12" fill="currentColor" ><circle cx="6" cy="6" r="6" fill="#ef4444"/><rect x="2.8" y="4.9" width="6.4" height="2.2" rx=".6" fill="#fecaca"/></svg>
<div class="t ti" style="left:107.4px;top:463.88px;">test required group</div>
<div class="t sm fr" style="left:211px;top:464.18px;">from <b>pre-release test</b></div>
<div class="mb" style="left:302px;top:467.57px;width:16px;background:#a78bfa">a</div>
<div class="env" style="left:329px;top:467.68px;width:37.5px"></div><svg style="position:absolute;left:333.8px;top:469.18px" width="11.4" height="11.4" viewBox="0 0 24 24" fill="#4b5563" ><path d="M19.14 12.94c.04-.3.06-.61.06-.94 0-.32-.02-.64-.07-.94l2.03-1.58a.49.49 0 0 0 .12-.61l-1.92-3.32a.488.488 0 0 0-.59-.22l-2.39.96c-.5-.38-1.03-.7-1.62-.94l-.36-2.54a.484.484 0 0 0-.48-.41h-3.84c-.24 0-.43.17-.47.41l-.36 2.54c-.59.24-1.13.57-1.62.94l-2.39-.96c-.22-.08-.47 0-.59.22L2.74 8.87c-.12.21-.08.47.12.61l2.03 1.58c-.05.3-.09.63-.09.94s.02.64.07.94l-2.03 1.58a.49.49 0 0 0-.12.61l1.92 3.32c.12.22.37.29.59.22l2.39-.96c.5.38 1.03.7 1.62.94l.36 2.54c.05.24.24.41.48.41h3.84c.24 0 .44-.17.47-.41l.36-2.54c.59-.24 1.13-.56 1.62-.94l2.39.96c.22.08.47 0 .59-.22l1.92-3.32c.12-.22.07-.47-.12-.61l-2.01-1.58zM12 15.6c-1.98 0-3.6-1.62-3.6-3.6s1.62-3.6 3.6-3.6 3.6 1.62 3.6 3.6-1.62 3.6-3.6 3.6z"/></svg><div class="t sm" style="left:347.2px;top:464.38px;color:#4b5563">test</div>
<div class="t sm" style="left:373px;top:464.27px;color:#6b7280">36 tests</div>
<div class="pl" style="left:750.3px;top:468.68px;width:27.5px;height:11px;line-height:11px;background:#a7f3d0;color:#059669;opacity:1;font-size:8.3px;border-radius:5.5px;font-weight:700;">20</div><div class="pl" style="left:780.5px;top:468.68px;width:27.5px;height:11px;line-height:11px;background:#fecaca;color:#ef4444;opacity:1;font-size:8.3px;border-radius:5.5px;font-weight:700;">16</div><div class="pl" style="left:810.8px;top:468.68px;width:27.5px;height:11px;line-height:11px;background:#fde68a;color:#f59e0b;opacity:0.38;font-size:8.3px;border-radius:5.5px;font-weight:700;">0</div>
<div class="t dt" style="right:45.700000000000045px;top:463.88px">Apr 29, 2025 10:18 AM</div>
<div class="dots" style="left:1240px;top:464.38px;"><svg width="8" height="3" viewBox="0 0 8 3"><circle cx="1.6" cy="1.5" r=".88"/><circle cx="4" cy="1.5" r=".88"/><circle cx="6.4" cy="1.5" r=".88"/></svg></div>
<div class="cb" style="left:78.60000000000001px;top:498.41px"></div>
<svg style="position:absolute;left:92.7px;top:499.81px" width="8.6" height="8.6" viewBox="0 0 12 12" fill="currentColor" ><circle cx="6" cy="6" r="6" fill="#22b573"/><path d="M3.2 6.2 L5.2 8.2 L8.9 4.1" fill="none" stroke="#fff" stroke-width="1.5" stroke-linecap="round" stroke-linejoin="round"/></svg>
<div class="t ti" style="left:107.4px;top:494.11px;">Automated Run #aaace48b Copy</div>
<div class="mb" style="left:284px;top:497.81px;width:18.6px;background:#f59e0b">m</div>
<div class="env" style="left:313px;top:497.91px;width:41px"></div><svg style="position:absolute;left:317.8px;top:499.41px" width="11.4" height="11.4" viewBox="0 0 24 24" fill="#4b5563" ><path d="M19.14 12.94c.04-.3.06-.61.06-.94 0-.32-.02-.64-.07-.94l2.03-1.58a.49.49 0 0 0 .12-.61l-1.92-3.32a.488.488 0 0 0-.59-.22l-2.39.96c-.5-.38-1.03-.7-1.62-.94l-.36-2.54a.484.484 0 0 0-.48-.41h-3.84c-.24 0-.43.17-.47.41l-.36 2.54c-.59.24-1.13.57-1.62.94l-2.39-.96c-.22-.08-.47 0-.59.22L2.74 8.87c-.12.21-.08.47.12.61l2.03 1.58c-.05.3-.09.63-.09.94s.02.64.07.94l-2.03 1.58a.49.49 0 0 0-.12.61l1.92 3.32c.12.22.37.29.59.22l2.39-.96c.5.38 1.03.7 1.62.94l.36 2.54c.05.24.24.41.48.41h3.84c.24 0 .44-.17.47-.41l.36-2.54c.59-.24 1.13-.56 1.62-.94l2.39.96c.22.08.47 0 .59-.22l1.92-3.32c.12-.22.07-.47-.12-.61l-2.01-1.58zM12 15.6c-1.98 0-3.6-1.62-3.6-3.6s1.62-3.6 3.6-3.6 3.6 1.62 3.6 3.6-1.62 3.6-3.6 3.6z"/></svg><div class="t sm" style="left:331.2px;top:494.61px;color:#4b5563">test</div>
<div class="env" style="left:360px;top:497.91px;width:41px"></div><svg style="position:absolute;left:364.8px;top:499.41px" width="11.4" height="11.4" viewBox="0 0 24 24" fill="#4b5563" ><path d="M19.14 12.94c.04-.3.06-.61.06-.94 0-.32-.02-.64-.07-.94l2.03-1.58a.49.49 0 0 0 .12-.61l-1.92-3.32a.488.488 0 0 0-.59-.22l-2.39.96c-.5-.38-1.03-.7-1.62-.94l-.36-2.54a.484.484 0 0 0-.48-.41h-3.84c-.24 0-.43.17-.47.41l-.36 2.54c-.59.24-1.13.57-1.62.94l-2.39-.96c-.22-.08-.47 0-.59.22L2.74 8.87c-.12.21-.08.47.12.61l2.03 1.58c-.05.3-.09.63-.09.94s.02.64.07.94l-2.03 1.58a.49.49 0 0 0-.12.61l1.92 3.32c.12.22.37.29.59.22l2.39-.96c.5.38 1.03.7 1.62.94l.36 2.54c.05.24.24.41.48.41h3.84c.24 0 .44-.17.47-.41l.36-2.54c.59-.24 1.13-.56 1.62-.94l2.39.96c.22.08.47 0 .59-.22l1.92-3.32c.12-.22.07-.47-.12-.61l-2.01-1.58zM12 15.6c-1.98 0-3.6-1.62-3.6-3.6s1.62-3.6 3.6-3.6 3.6 1.62 3.6 3.6-1.62 3.6-3.6 3.6z"/></svg><div class="t sm" style="left:378.2px;top:494.61px;color:#4b5563">dev</div>
<div class="env" style="left:407px;top:497.91px;width:41.5px"></div><svg style="position:absolute;left:411.8px;top:499.41px" width="11.4" height="11.4" viewBox="0 0 24 24" fill="#4b5563" ><path d="M19.14 12.94c.04-.3.06-.61.06-.94 0-.32-.02-.64-.07-.94l2.03-1.58a.49.49 0 0 0 .12-.61l-1.92-3.32a.488.488 0 0 0-.59-.22l-2.39.96c-.5-.38-1.03-.7-1.62-.94l-.36-2.54a.484.484 0 0 0-.48-.41h-3.84c-.24 0-.43.17-.47.41l-.36 2.54c-.59.24-1.13.57-1.62.94l-2.39-.96c-.22-.08-.47 0-.59.22L2.74 8.87c-.12.21-.08.47.12.61l2.03 1.58c-.05.3-.09.63-.09.94s.02.64.07.94l-2.03 1.58a.49.49 0 0 0-.12.61l1.92 3.32c.12.22.37.29.59.22l2.39-.96c.5.38 1.03.7 1.62.94l.36 2.54c.05.24.24.41.48.41h3.84c.24 0 .44-.17.47-.41l.36-2.54c.59-.24 1.13-.56 1.62-.94l2.39.96c.22.08.47 0 .59-.22l1.92-3.32c.12-.22.07-.47-.12-.61l-2.01-1.58zM12 15.6c-1.98 0-3.6-1.62-3.6-3.6s1.62-3.6 3.6-3.6 3.6 1.62 3.6 3.6-1.62 3.6-3.6 3.6z"/></svg><div class="t sm" style="left:425.2px;top:494.61px;color:#4b5563">prod</div>
<div class="t sm" style="left:454px;top:494.51px;color:#6b7280">3 tests</div>
<div class="pl" style="left:750.3px;top:498.91px;width:27.5px;height:11px;line-height:11px;background:#a7f3d0;color:#059669;opacity:1;font-size:8.3px;border-radius:5.5px;font-weight:700;">3</div><div class="pl" style="left:780.5px;top:498.91px;width:27.5px;height:11px;line-height:11px;background:#fecaca;color:#ef4444;opacity:0.38;font-size:8.3px;border-radius:5.5px;font-weight:700;">0</div><div class="pl" style="left:810.8px;top:498.91px;width:27.5px;height:11px;line-height:11px;background:#fde68a;color:#f59e0b;opacity:0.38;font-size:8.3px;border-radius:5.5px;font-weight:700;">0</div>
<div class="t dt" style="right:45.700000000000045px;top:494.11px">Apr 28, 2025 9:19 AM</div>
<div class="dots" style="left:1240px;top:494.61px;"><svg width="8" height="3" viewBox="0 0 8 3"><circle cx="1.6" cy="1.5" r=".88"/><circle cx="4" cy="1.5" r=".88"/><circle cx="6.4" cy="1.5" r=".88"/></svg></div>
<div class="cb" style="left:78.60000000000001px;top:528.64px"></div>
<svg style="position:absolute;left:92.7px;top:530.05px" width="8.6" height="8.6" viewBox="0 0 12 12" fill="currentColor" ><circle cx="6" cy="6" r="6" fill="#22b573"/><path d="M3.2 6.2 L5.2 8.2 L8.9 4.1" fill="none" stroke="#fff" stroke-width="1.5" stroke-linecap="round" stroke-linejoin="round"/></svg>
<div class="t ti" style="left:107.4px;top:524.35px;">Automated Run #ea5f939c Copy</div>
<div class="mb" style="left:282px;top:528.05px;width:18.6px;background:#f59e0b">m</div>
<div class="env" style="left:311px;top:528.14px;width:41px"></div><svg style="position:absolute;left:315.8px;top:529.64px" width="11.4" height="11.4" viewBox="0 0 24 24" fill="#4b5563" ><path d="M19.14 12.94c.04-.3.06-.61.06-.94 0-.32-.02-.64-.07-.94l2.03-1.58a.49.49 0 0 0 .12-.61l-1.92-3.32a.488.488 0 0 0-.59-.22l-2.39.96c-.5-.38-1.03-.7-1.62-.94l-.36-2.54a.484.484 0 0 0-.48-.41h-3.84c-.24 0-.43.17-.47.41l-.36 2.54c-.59.24-1.13.57-1.62.94l-2.39-.96c-.22-.08-.47 0-.59.22L2.74 8.87c-.12.21-.08.47.12.61l2.03 1.58c-.05.3-.09.63-.09.94s.02.64.07.94l-2.03 1.58a.49.49 0 0 0-.12.61l1.92 3.32c.12.22.37.29.59.22l2.39-.96c.5.38 1.03.7 1.62.94l.36 2.54c.05.24.24.41.48.41h3.84c.24 0 .44-.17.47-.41l.36-2.54c.59-.24 1.13-.56 1.62-.94l2.39.96c.22.08.47 0 .59-.22l1.92-3.32c.12-.22.07-.47-.12-.61l-2.01-1.58zM12 15.6c-1.98 0-3.6-1.62-3.6-3.6s1.62-3.6 3.6-3.6 3.6 1.62 3.6 3.6-1.62 3.6-3.6 3.6z"/></svg><div class="t sm" style="left:329.2px;top:524.85px;color:#4b5563">test</div>
<div class="env" style="left:358px;top:528.14px;width:41px"></div><svg style="position:absolute;left:362.8px;top:529.64px" width="11.4" height="11.4" viewBox="0 0 24 24" fill="#4b5563" ><path d="M19.14 12.94c.04-.3.06-.61.06-.94 0-.32-.02-.64-.07-.94l2.03-1.58a.49.49 0 0 0 .12-.61l-1.92-3.32a.488.488 0 0 0-.59-.22l-2.39.96c-.5-.38-1.03-.7-1.62-.94l-.36-2.54a.484.484 0 0 0-.48-.41h-3.84c-.24 0-.43.17-.47.41l-.36 2.54c-.59.24-1.13.57-1.62.94l-2.39-.96c-.22-.08-.47 0-.59.22L2.74 8.87c-.12.21-.08.47.12.61l2.03 1.58c-.05.3-.09.63-.09.94s.02.64.07.94l-2.03 1.58a.49.49 0 0 0-.12.61l1.92 3.32c.12.22.37.29.59.22l2.39-.96c.5.38 1.03.7 1.62.94l.36 2.54c.05.24.24.41.48.41h3.84c.24 0 .44-.17.47-.41l.36-2.54c.59-.24 1.13-.56 1.62-.94l2.39.96c.22.08.47 0 .59-.22l1.92-3.32c.12-.22.07-.47-.12-.61l-2.01-1.58zM12 15.6c-1.98 0-3.6-1.62-3.6-3.6s1.62-3.6 3.6-3.6 3.6 1.62 3.6 3.6-1.62 3.6-3.6 3.6z"/></svg><div class="t sm" style="left:376.2px;top:524.85px;color:#4b5563">dev</div>
<div class="env" style="left:405px;top:528.14px;width:41.5px"></div><svg style="position:absolute;left:409.8px;top:529.64px" width="11.4" height="11.4" viewBox="0 0 24 24" fill="#4b5563" ><path d="M19.14 12.94c.04-.3.06-.61.06-.94 0-.32-.02-.64-.07-.94l2.03-1.58a.49.49 0 0 0 .12-.61l-1.92-3.32a.488.488 0 0 0-.59-.22l-2.39.96c-.5-.38-1.03-.7-1.62-.94l-.36-2.54a.484.484 0 0 0-.48-.41h-3.84c-.24 0-.43.17-.47.41l-.36 2.54c-.59.24-1.13.57-1.62.94l-2.39-.96c-.22-.08-.47 0-.59.22L2.74 8.87c-.12.21-.08.47.12.61l2.03 1.58c-.05.3-.09.63-.09.94s.02.64.07.94l-2.03 1.58a.49.49 0 0 0-.12.61l1.92 3.32c.12.22.37.29.59.22l2.39-.96c.5.38 1.03.7 1.62.94l.36 2.54c.05.24.24.41.48.41h3.84c.24 0 .44-.17.47-.41l.36-2.54c.59-.24 1.13-.56 1.62-.94l2.39.96c.22.08.47 0 .59-.22l1.92-3.32c.12-.22.07-.47-.12-.61l-2.01-1.58zM12 15.6c-1.98 0-3.6-1.62-3.6-3.6s1.62-3.6 3.6-3.6 3.6 1.62 3.6 3.6-1.62 3.6-3.6 3.6z"/></svg><div class="t sm" style="left:423.2px;top:524.85px;color:#4b5563">prod</div>
<div class="t sm" style="left:452px;top:524.75px;color:#6b7280">3 tests</div>
<div class="pl" style="left:750.3px;top:529.14px;width:27.5px;height:11px;line-height:11px;background:#a7f3d0;color:#059669;opacity:1;font-size:8.3px;border-radius:5.5px;font-weight:700;">3</div><div class="pl" style="left:780.5px;top:529.14px;width:27.5px;height:11px;line-height:11px;background:#fecaca;color:#ef4444;opacity:0.38;font-size:8.3px;border-radius:5.5px;font-weight:700;">0</div><div class="pl" style="left:810.8px;top:529.14px;width:27.5px;height:11px;line-height:11px;background:#fde68a;color:#f59e0b;opacity:0.38;font-size:8.3px;border-radius:5.5px;font-weight:700;">0</div>
<div class="t dt" style="right:45.700000000000045px;top:524.35px">Apr 28, 2025 9:15 AM</div>
<div class="dots" style="left:1240px;top:524.85px;"><svg width="8" height="3" viewBox="0 0 8 3"><circle cx="1.6" cy="1.5" r=".88"/><circle cx="4" cy="1.5" r=".88"/><circle cx="6.4" cy="1.5" r=".88"/></svg></div>
<div class="cb" style="left:78.60000000000001px;top:558.88px"></div>
<svg style="position:absolute;left:92.7px;top:560.28px" width="8.6" height="8.6" viewBox="0 0 12 12" fill="currentColor" ><circle cx="6" cy="6" r="6" fill="#22b573"/><path d="M3.2 6.2 L5.2 8.2 L8.9 4.1" fill="none" stroke="#fff" stroke-width="1.5" stroke-linecap="round" stroke-linejoin="round"/></svg>
<div class="t ti" style="left:107.4px;top:554.58px;">relaunch two Copy</div>
<div class="mb" style="left:210px;top:558.28px;width:18.6px;background:#f59e0b">m</div>
<div class="env" style="left:239px;top:558.38px;width:37.5px"></div><svg style="position:absolute;left:243.8px;top:559.88px" width="11.4" height="11.4" viewBox="0 0 24 24" fill="#4b5563" ><path d="M19.14 12.94c.04-.3.06-.61.06-.94 0-.32-.02-.64-.07-.94l2.03-1.58a.49.49 0 0 0 .12-.61l-1.92-3.32a.488.488 0 0 0-.59-.22l-2.39.96c-.5-.38-1.03-.7-1.62-.94l-.36-2.54a.484.484 0 0 0-.48-.41h-3.84c-.24 0-.43.17-.47.41l-.36 2.54c-.59.24-1.13.57-1.62.94l-2.39-.96c-.22-.08-.47 0-.59.22L2.74 8.87c-.12.21-.08.47.12.61l2.03 1.58c-.05.3-.09.63-.09.94s.02.64.07.94l-2.03 1.58a.49.49 0 0 0-.12.61l1.92 3.32c.12.22.37.29.59.22l2.39-.96c.5.38 1.03.7 1.62.94l.36 2.54c.05.24.24.41.48.41h3.84c.24 0 .44-.17.47-.41l.36-2.54c.59-.24 1.13-.56 1.62-.94l2.39.96c.22.08.47 0 .59-.22l1.92-3.32c.12-.22.07-.47-.12-.61l-2.01-1.58zM12 15.6c-1.98 0-3.6-1.62-3.6-3.6s1.62-3.6 3.6-3.6 3.6 1.62 3.6 3.6-1.62 3.6-3.6 3.6z"/></svg><div class="t sm" style="left:257.2px;top:555.08px;color:#4b5563">test</div>
<div class="t sm" style="left:283px;top:554.98px;color:#6b7280">9 tests</div>
<div class="pl" style="left:750.3px;top:559.38px;width:27.5px;height:11px;line-height:11px;background:#a7f3d0;color:#059669;opacity:1;font-size:8.3px;border-radius:5.5px;font-weight:700;">9</div><div class="pl" style="left:780.5px;top:559.38px;width:27.5px;height:11px;line-height:11px;background:#fecaca;color:#ef4444;opacity:0.38;font-size:8.3px;border-radius:5.5px;font-weight:700;">0</div><div class="pl" style="left:810.8px;top:559.38px;width:27.5px;height:11px;line-height:11px;background:#fde68a;color:#f59e0b;opacity:0.38;font-size:8.3px;border-radius:5.5px;font-weight:700;">0</div>
<div class="t dt" style="right:45.700000000000045px;top:554.58px">Apr 28, 2025 9:06 AM</div>
<div class="dots" style="left:1240px;top:555.08px;"><svg width="8" height="3" viewBox="0 0 8 3"><circle cx="1.6" cy="1.5" r=".88"/><circle cx="4" cy="1.5" r=".88"/><circle cx="6.4" cy="1.5" r=".88"/></svg></div>
<div class="cb" style="left:78.60000000000001px;top:589.12px"></div>
<svg style="position:absolute;left:92.7px;top:590.52px" width="8.6" height="8.6" viewBox="0 0 12 12" fill="currentColor" ><circle cx="6" cy="6" r="6" fill="#22b573"/><path d="M3.2 6.2 L5.2 8.2 L8.9 4.1" fill="none" stroke="#fff" stroke-width="1.5" stroke-linecap="round" stroke-linejoin="round"/></svg>
<div class="t ti" style="left:107.4px;top:584.82px;">relaunch test Copy</div>
<div class="mb" style="left:210px;top:588.52px;width:18.6px;background:#f59e0b">m</div>
<div class="env" style="left:239px;top:588.62px;width:37.5px"></div><svg style="position:absolute;left:243.8px;top:590.12px" width="11.4" height="11.4" viewBox="0 0 24 24" fill="#4b5563" ><path d="M19.14 12.94c.04-.3.06-.61.06-.94 0-.32-.02-.64-.07-.94l2.03-1.58a.49.49 0 0 0 .12-.61l-1.92-3.32a.488.488 0 0 0-.59-.22l-2.39.96c-.5-.38-1.03-.7-1.62-.94l-.36-2.54a.484.484 0 0 0-.48-.41h-3.84c-.24 0-.43.17-.47.41l-.36 2.54c-.59.24-1.13.57-1.62.94l-2.39-.96c-.22-.08-.47 0-.59.22L2.74 8.87c-.12.21-.08.47.12.61l2.03 1.58c-.05.3-.09.63-.09.94s.02.64.07.94l-2.03 1.58a.49.49 0 0 0-.12.61l1.92 3.32c.12.22.37.29.59.22l2.39-.96c.5.38 1.03.7 1.62.94l.36 2.54c.05.24.24.41.48.41h3.84c.24 0 .44-.17.47-.41l.36-2.54c.59-.24 1.13-.56 1.62-.94l2.39.96c.22.08.47 0 .59-.22l1.92-3.32c.12-.22.07-.47-.12-.61l-2.01-1.58zM12 15.6c-1.98 0-3.6-1.62-3.6-3.6s1.62-3.6 3.6-3.6 3.6 1.62 3.6 3.6-1.62 3.6-3.6 3.6z"/></svg><div class="t sm" style="left:257.2px;top:585.32px;color:#4b5563">test</div>
<div class="pl" style="left:750.3px;top:589.62px;width:27.5px;height:11px;line-height:11px;background:#a7f3d0;color:#059669;opacity:1;font-size:8.3px;border-radius:5.5px;font-weight:700;">9</div><div class="pl" style="left:780.5px;top:589.62px;width:27.5px;height:11px;line-height:11px;background:#fecaca;color:#ef4444;opacity:0.38;font-size:8.3px;border-radius:5.5px;font-weight:700;">0</div><div class="pl" style="left:810.8px;top:589.62px;width:27.5px;height:11px;line-height:11px;background:#fde68a;color:#f59e0b;opacity:0.38;font-size:8.3px;border-radius:5.5px;font-weight:700;">0</div>
<div class="t dt" style="right:45.700000000000045px;top:584.82px">Apr 28, 2025 8:30 AM</div>
<div class="dots" style="left:1240px;top:585.32px;"><svg width="8" height="3" viewBox="0 0 8 3"><circle cx="1.6" cy="1.5" r=".88"/><circle cx="4" cy="1.5" r=".88"/><circle cx="6.4" cy="1.5" r=".88"/></svg></div>
<div class="cb" style="left:78.60000000000001px;top:619.35px"></div>
<svg style="position:absolute;left:92.7px;top:620.75px" width="8.6" height="8.6" viewBox="0 0 12 12" fill="currentColor" ><circle cx="6" cy="6" r="6" fill="#22b573"/><path d="M3.2 6.2 L5.2 8.2 L8.9 4.1" fill="none" stroke="#fff" stroke-width="1.5" stroke-linecap="round" stroke-linejoin="round"/></svg>
<div class="t ti" style="left:107.4px;top:615.05px;">Automated tests at 18 Dec 2024 12:55:27</div>
<div class="mb" style="left:340px;top:618.75px;width:16px;background:#a78bfa">a</div>
<div class="t sm" style="left:367.6px;top:615.45px;color:#6b7280">21 tests</div>
<div class="pl" style="left:750.3px;top:619.85px;width:27.5px;height:11px;line-height:11px;background:#a7f3d0;color:#059669;opacity:1;font-size:8.3px;border-radius:5.5px;font-weight:700;">21</div><div class="pl" style="left:780.5px;top:619.85px;width:27.5px;height:11px;line-height:11px;background:#fecaca;color:#ef4444;opacity:0.38;font-size:8.3px;border-radius:5.5px;font-weight:700;">0</div><div class="pl" style="left:810.8px;top:619.85px;width:27.5px;height:11px;line-height:11px;background:#fde68a;color:#f59e0b;opacity:0.38;font-size:8.3px;border-radius:5.5px;font-weight:700;">0</div>
<div class="t dt" style="right:45.700000000000045px;top:615.05px">Apr 28, 2025 8:29 AM</div>
<div class="dots" style="left:1240px;top:615.55px;"><svg width="8" height="3" viewBox="0 0 8 3"><circle cx="1.6" cy="1.5" r=".88"/><circle cx="4" cy="1.5" r=".88"/><circle cx="6.4" cy="1.5" r=".88"/></svg></div>
<div class="cb" style="left:78.60000000000001px;top:649.58px"></div>
<svg style="position:absolute;left:92.7px;top:650.68px" width="8.6" height="8.6" viewBox="0 0 12 12" fill="currentColor" ><circle cx="6" cy="6.9" r="4.9" fill="#5b6374"/><rect x="4.6" y=".3" width="2.8" height="1.7" rx=".4" fill="#5b6374"/><path d="M1.2 1.9 L11 11.7" stroke="#f9fafb" stroke-width="1.4"/><path d="M.5 3 L2.6 5.1" stroke="#5b6374" stroke-width="1.1"/></svg>
<div class="t ti" style="left:107.4px;top:645.28px;">iBusiness Funding</div>
<div class="mb" style="left:207px;top:648.99px;width:16px;background:#a78bfa">a</div>
<div class="t sm" style="left:233px;top:645.68px;color:#6b7280">2 tests</div>
<div class="pl" style="left:750.3px;top:650.08px;width:27.5px;height:11px;line-height:11px;background:#a7f3d0;color:#059669;opacity:0.38;font-size:8.3px;border-radius:5.5px;font-weight:700;">0</div><div class="pl" style="left:780.5px;top:650.08px;width:27.5px;height:11px;line-height:11px;background:#fecaca;color:#ef4444;opacity:0.38;font-size:8.3px;border-radius:5.5px;font-weight:700;">0</div><div class="pl" style="left:810.8px;top:650.08px;width:27.5px;height:11px;line-height:11px;background:#fde68a;color:#f59e0b;opacity:1;font-size:8.3px;border-radius:5.5px;font-weight:700;">2</div>
<div class="t dt" style="right:45.700000000000045px;top:645.28px">Apr 25, 2025 6:57 PM</div>
<div class="dots" style="left:1240px;top:645.78px;"><svg width="8" height="3" viewBox="0 0 8 3"><circle cx="1.6" cy="1.5" r=".88"/><circle cx="4" cy="1.5" r=".88"/><circle cx="6.4" cy="1.5" r=".88"/></svg></div>
<div class="cb" style="left:78.60000000000001px;top:679.82px"></div>
<div class="t ti" style="left:107.4px;top:675.02px;">Manual tests at 25 Apr 2025 10:10</div>
<div class="mb" style="left:300px;top:679.22px;width:18.6px;background:#f59e0b">m</div>
<div class="t sm" style="left:330px;top:675.92px;color:#6b7280">25 tests</div>
<div class="pl" style="left:750.3px;top:680.32px;width:27.5px;height:11px;line-height:11px;background:#a7f3d0;color:#059669;opacity:1;font-size:8.3px;border-radius:5.5px;font-weight:700;">25</div><div class="pl" style="left:780.5px;top:680.32px;width:27.5px;height:11px;line-height:11px;background:#fecaca;color:#ef4444;opacity:0.38;font-size:8.3px;border-radius:5.5px;font-weight:700;">0</div><div class="pl" style="left:810.8px;top:680.32px;width:27.5px;height:11px;line-height:11px;background:#fde68a;color:#f59e0b;opacity:0.38;font-size:8.3px;border-radius:5.5px;font-weight:700;">0</div>
<div class="av" style="left:991.2px;top:679.32px">Y</div>
<div class="t dt" style="right:45.700000000000045px;top:675.52px">Apr 25, 2025 4:16 PM</div>
<div class="dots" style="left:1240px;top:676.02px;"><svg width="8" height="3" viewBox="0 0 8 3"><circle cx="1.6" cy="1.5" r=".88"/><circle cx="4" cy="1.5" r=".88"/><circle cx="6.4" cy="1.5" r=".88"/></svg></div>

<!-- ============ BOTTOM BAR + MENU ============ -->
<!-- bottom action bar -->
<div class="abs" style="left:72.4px;top:682.2px;width:480.5px;height:44px;border-radius:5.5px;background:#eceffe"></div>
<div class="t" style="left:88.6px;top:691.7px;font-size:10px;color:#374151;letter-spacing:.1px">3 runs</div>
<div class="t" style="left:123px;top:691.7px;font-size:8.75px;color:#6366f1;letter-spacing:.08px">Select all</div>
<div class="abs" style="left:123px;top:707.2px;width:35.4px;height:0;border-top:1px dotted #8b8ff6"></div>
<!-- Archive -->
<div class="btn" style="left:164px;top:692.6px;width:54.6px;height:19.1px"></div>
<svg class="abs" style="left:170.2px;top:697.6px" width="9" height="9" viewBox="0 0 9 9"><rect x=".6" y=".4" width="7.8" height="2.4" rx=".4" fill="#111827"/><path d="M1.2 3.4 H7.8 V8 a.6 .6 0 0 1 -.6 .6 H1.8 a.6 .6 0 0 1 -.6 -.6 Z" fill="#111827"/><rect x="3.2" y="4.3" width="2.6" height="1" rx=".4" fill="#e0e7ff"/></svg>
<div class="t" style="left:181.8px;top:691.7px;font-size:8.75px;color:#111827;letter-spacing:.1px;-webkit-text-stroke:.2px #111827">Archive</div>
<!-- Labels -->
<div class="btn" style="left:224.2px;top:692.6px;width:51.2px;height:19.1px"></div>
<svg class="abs" style="left:230px;top:697.2px" width="10" height="10" viewBox="0 0 10 10"><path d="M.8 1.4 a.6 .6 0 0 1 .6-.6 H4.4 L8.6 5 a.7 .7 0 0 1 0 1 L6 8.6 a.7 .7 0 0 1 -1 0 L.8 4.4 Z" fill="none" stroke="#111827" stroke-width="1.1"/><circle cx="2.9" cy="2.9" r=".8" fill="#111827"/><path d="M6 1 L9.6 4.6" stroke="#111827" stroke-width=".9" opacity="0"/></svg>
<div class="t" style="left:242.6px;top:691.7px;font-size:8.75px;color:#111827;letter-spacing:.1px;-webkit-text-stroke:.2px #111827">Labels</div>
<!-- Compare -->
<div class="btn" style="left:281px;top:692.6px;width:59.8px;height:19.1px"></div>
<svg class="abs" style="left:286.6px;top:697.4px" width="10" height="9" viewBox="0 0 10 9"><path d="M.8 .4 V8.2 H9.6" fill="none" stroke="#111827" stroke-width="1.1"/><path d="M3 7 V4.2 M5.2 7 V2 M7.4 7 V5.2" stroke="#111827" stroke-width="1.3"/></svg>
<div class="t" style="left:298.8px;top:691.7px;font-size:8.75px;color:#111827;letter-spacing:.1px;-webkit-text-stroke:.2px #111827">Compare</div>
<!-- more (focused) -->
<div class="btn" style="left:346.8px;top:691.6px;width:25.6px;height:20.6px;border-radius:5px;background:#e0e7ff;border:1.2px solid #fbfbff;box-shadow:0 0 0 .6px #d4d9fb"></div>
<div class="dots" style="left:347.8px;top:692.6px;background:none"><svg width="8" height="3" viewBox="0 0 8 3"><circle cx="1.6" cy="1.5" r=".88"/><circle cx="4" cy="1.5" r=".88"/><circle cx="6.4" cy="1.5" r=".88"/></svg></div>
<!-- delete -->
<div class="btn" style="left:377.3px;top:692.6px;width:23.6px;height:19.1px;background:#ef4444"></div>
<svg class="abs" style="left:385.8px;top:698.4px" width="6.8" height="7.6" viewBox="0 0 8 9"><path d="M2.6 .3 H5.4 L5.8 .9 H7.6 V2 H.4 V.9 H2.2 Z" fill="#fff"/><path d="M1 2.6 H7 V8 a.8 .8 0 0 1 -.8 .8 H1.8 a.8 .8 0 0 1 -.8 -.8 Z" fill="#fff"/></svg>
<!-- close -->
<div class="btn" style="left:512.4px;top:692.6px;width:23.8px;height:19.1px"></div>
<svg class="abs" style="left:520.6px;top:698.5px" width="7.4" height="7.4" viewBox="0 0 8 8"><path d="M1.2 1.2 L6.8 6.8 M6.8 1.2 L1.2 6.8" stroke="#111827" stroke-width="1.15"/></svg>

<!-- popup menu -->
<div class="abs" style="left:284px;top:577.5px;width:87.3px;height:109.2px;background:#fff;border-radius:4.5px;box-shadow:0 6px 14px rgba(0,0,0,.10),0 2px 5px rgba(0,0,0,.07)"></div>
<svg class="abs" style="left:295.3px;top:590.7px" width="9" height="9" viewBox="0 0 9 9"><path d="M4.5 1.5 V7.5 M1.5 4.5 H7.5" stroke="#374151" stroke-width="1"/></svg>
<div class="mi" style="top:585px">Link</div>
<svg class="abs" style="left:294.4px;top:614.8px" width="10" height="10" viewBox="0 0 10 10" fill="none" stroke="#374151" stroke-width="1"><path d="M5 .8 V6.4 M2.6 4.2 L5 6.6 L7.4 4.2"/><path d="M.8 6.4 V8.2 a.8 .8 0 0 0 .8 .8 H8.4 a.8 .8 0 0 0 .8 -.8 V6.4"/></svg>
<div class="mi" style="top:609.8px">Download</div>
<svg class="abs" style="left:295.2px;top:640.5px" width="9" height="9" viewBox="0 0 10 10" fill="none" stroke="#374151" stroke-width="1"><path d="M1.6 1.6 L5 5 L1.6 8.4 M5 5 H8"/><circle cx="1.5" cy="1.5" r=".9" fill="#374151"/><circle cx="1.5" cy="8.5" r=".9" fill="#374151"/><circle cx="8.4" cy="5" r=".9" fill="#374151"/></svg>
<div class="mi" style="top:634.8px">Merge</div>
<svg class="abs" style="left:294.8px;top:664.8px" width="9" height="9" viewBox="0 0 9 9" fill="none" stroke="#374151" stroke-width="1"><path d="M.8 4.5 H8 M5.2 1.6 L8.1 4.5 L5.2 7.4"/></svg>
<div class="mi" style="top:659.6px">Move</div>


<!-- ============ ANNOTATIONS ============ -->
<svg class="abs" style="left:0;top:0;filter:drop-shadow(0 1px 1.5px rgba(0,0,0,.22))" width="1280" height="720" viewBox="0 0 1280 720" fill="none" stroke="#f32d3f" stroke-width="2.2">
 <rect x="3" y="93.6" width="47.8" height="32.6"/>
 <rect x="62" y="61.3" width="36.9" height="36.4"/>
 <rect x="66.8" y="306.6" width="35.9" height="366.3"/>
 <rect x="342.6" y="687.5" width="31.8" height="29.2"/>
 <rect x="284.1" y="606.2" width="86.8" height="25"/>
 <path d="M403.8 662 L381.2 680.8" stroke-linecap="round" stroke-width="3.1"/>
 <path d="M380.5 671.2 L379.3 682.5 L390 683" stroke-linecap="round" stroke-linejoin="round" stroke-width="3.1"/>
</svg>
<div class="num" style="left:47.3px;top:120.4px">1</div>
<div class="num" style="left:94.4px;top:91px">2</div>
<div class="num" style="left:96.9px;top:667.7px">3</div>
<div class="num" style="left:404.9px;top:646.7px">4</div>
<div class="num" style="left:364.7px;top:624.3px">5</div>


</div>
</body>
</html>
